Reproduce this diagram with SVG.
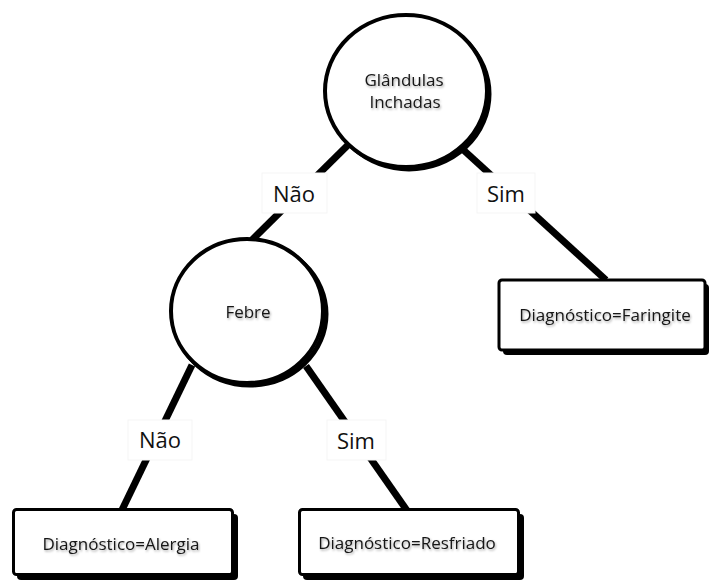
<svg xmlns="http://www.w3.org/2000/svg" width="709" height="581" viewBox="0 0 709 581">
  <defs>
    <filter id="soft" x="-20%" y="-40%" width="140%" height="180%">
      <feDropShadow dx="1" dy="1.5" stdDeviation="1" flood-color="#000" flood-opacity="0.35"/>
    </filter>
  </defs>
  <style>
    .edge { stroke: #000; stroke-width: 7; fill: none; }
    .shadow { fill: none; stroke: #000; stroke-width: 5; }
    .node { fill: #fff; stroke: #000; stroke-width: 4; }
    .box { fill: #fff; stroke: #000; stroke-width: 3; }
    .boxshadow { fill: #000; }
    .ntext { font-family: "Open Sans", "Liberation Sans", sans-serif; font-size: 17px; fill: #151515; text-anchor: middle; filter: url(#soft); }
    .ltext { font-family: "Open Sans", "Liberation Sans", sans-serif; font-size: 22px; fill: #111; text-anchor: middle; }
    .lbg { fill: #fff; stroke: #f5f5f5; stroke-width: 1; }
  </style>
  <rect width="709" height="581" fill="#fff"/>

  <!-- connectors with their labels -->
  <g id="connectors">
    <line class="edge" x1="350" y1="143" x2="252" y2="240"/>
    <line class="edge" x1="458" y1="145" x2="606" y2="280"/>
    <line class="edge" x1="192" y1="365" x2="121" y2="512"/>
    <line class="edge" x1="306" y1="366" x2="408" y2="512"/>

    <rect class="lbg" x="262" y="173" width="65" height="40"/>
    <text class="ltext" x="294" y="202">Não</text>
    <rect class="lbg" x="477" y="173" width="58" height="40"/>
    <text class="ltext" x="506" y="202">Sim</text>
    <rect class="lbg" x="128" y="420" width="64" height="40"/>
    <text class="ltext" x="160" y="448">Não</text>
    <rect class="lbg" x="327" y="420" width="59" height="40"/>
    <text class="ltext" x="356" y="449">Sim</text>
  </g>

  <!-- decision: Glândulas Inchadas -->
  <g id="glandulas">
    <ellipse class="shadow" cx="409" cy="94" rx="80" ry="75"/>
    <ellipse class="node" cx="406" cy="91" rx="81" ry="76"/>
    <text class="ntext" x="404" y="86">Glândulas</text>
    <text class="ntext" x="405" y="108">Inchadas</text>
  </g>

  <!-- decision: Febre -->
  <g id="febre">
    <ellipse class="shadow" cx="250" cy="314" rx="76" ry="71"/>
    <ellipse class="node" cx="247" cy="311" rx="76" ry="72"/>
    <text class="ntext" x="248" y="318">Febre</text>
  </g>

  <!-- leaf: Faringite -->
  <g id="faringite">
    <rect class="boxshadow" x="503" y="284" width="206" height="71" rx="4"/>
    <rect class="box" x="499" y="280" width="206" height="70" rx="3"/>
    <text class="ntext" x="605" y="321">Diagnóstico=Faringite</text>
  </g>

  <!-- leaf: Alergia -->
  <g id="alergia">
    <rect class="boxshadow" x="17" y="514" width="221" height="66" rx="4"/>
    <rect class="box" x="13.5" y="509.5" width="219" height="65" rx="3"/>
    <text class="ntext" x="121" y="550">Diagnóstico=Alergia</text>
  </g>

  <!-- leaf: Resfriado -->
  <g id="resfriado">
    <rect class="boxshadow" x="303" y="514" width="221" height="66" rx="4"/>
    <rect class="box" x="299.5" y="509.5" width="219" height="65" rx="3"/>
    <text class="ntext" x="407" y="549">Diagnóstico=Resfriado</text>
  </g>
</svg>
